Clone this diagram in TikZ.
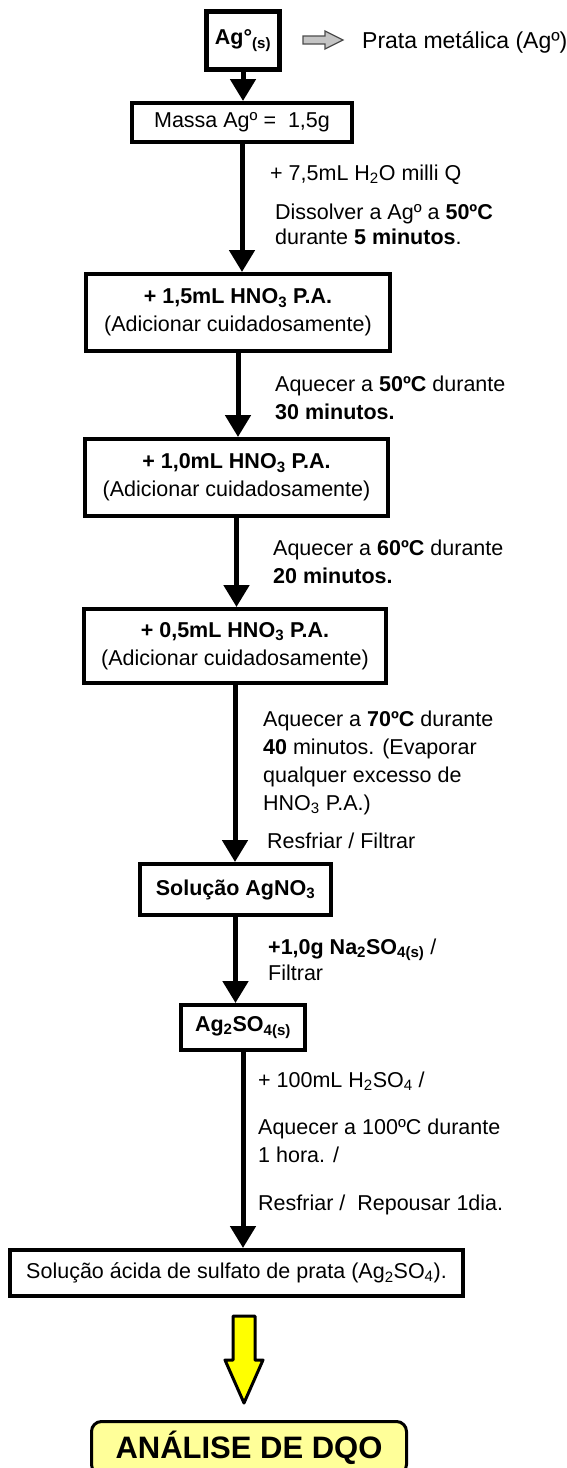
\documentclass[tikz,border=0pt]{standalone}
\usepackage{fontspec}
\setmainfont{Liberation Sans}
\usetikzlibrary{arrows.meta,positioning}
\definecolor{cGray}{HTML}{C4C4C4}
\definecolor{cYel}{HTML}{FFFF00}
\definecolor{cPale}{HTML}{FFFF99}
\tikzset{
  box/.style={draw=black,line width=4pt,fill=white,align=center,inner sep=0pt},
  note/.style={anchor=base west,align=left,inner sep=0pt},
  flow/.style={-{Triangle[length=22pt,width=25pt]},line width=5pt},
  hollow/.style={draw=black!70,fill=cGray,line width=1.3pt,line join=miter},
  yarrow/.style={draw=black,fill=cYel,line width=3pt,line join=round},
}

\begin{document}
\begin{tikzpicture}[x=1pt,y=-1pt,font=\fontsize{21.5}{28}\selectfont]
  \useasboundingbox (0,0) rectangle (566,1468);
  % boxes
  \node[box,line width=5pt,minimum width=73pt,minimum height=58pt] (ag) at (243,40.5)
    {\textbf{Ag°\textsubscript{(s)}}};
  \node[box,below=29pt of ag,xshift=-1pt,minimum width=220pt,minimum height=39pt] (massa)
    {Massa Agº = \ 1,5g};
  \node[box,below=128pt of massa,xshift=-4pt,minimum width=304pt,minimum height=77pt] (hnoA)
    {\textbf{+ 1,5mL HNO\textsubscript{3} P.A.}\\(Adicionar cuidadosamente)};
  \node[box,below=84pt of hnoA,xshift=-1.5pt,minimum width=303pt,minimum height=77pt] (hnoB)
    {\textbf{+ 1,0mL HNO\textsubscript{3} P.A.}\\(Adicionar cuidadosamente)};
  \node[box,below=89pt of hnoB,xshift=-1.5pt,minimum width=302pt,minimum height=74pt] (hnoC)
    {\textbf{+ 0,5mL HNO\textsubscript{3} P.A.}\\(Adicionar cuidadosamente)};
  \node[box,below=177pt of hnoC,xshift=0.5pt,minimum width=191pt,minimum height=51pt] (nitrato)
    {\textbf{Solução AgNO\textsubscript{3}}};
  \node[box,below=86pt of nitrato,xshift=7.5pt,minimum width=124pt,minimum height=45pt] (sulfato)
    {\textbf{Ag\textsubscript{2}SO\textsubscript{4(s)}}};
  \node[box,below=196pt of sulfato,xshift=-6.5pt,minimum width=453pt,minimum height=46pt] (acida)
    {Solução ácida de sulfato de prata (Ag\textsubscript{2}SO\textsubscript{4}).};
  \node[box,fill=cPale,line width=3pt,rounded corners=10pt,below=122pt of acida,xshift=12.5pt,
    minimum width=315pt,minimum height=53pt,font=\fontsize{31}{36}\selectfont\bfseries] (dqo)
    {ANÁLISE DE DQO};

  % flow arrows
  \draw[flow] (ag.south) -- (ag.south |- massa.north);
  \draw[flow] (massa.south) -- (massa.south |- hnoA.north);
  \draw[flow] (hnoA.south) -- (hnoA.south |- hnoB.north);
  \draw[flow] (hnoB.south) -- (hnoB.south |- hnoC.north);
  \draw[flow] (hnoC.south) -- (hnoC.south |- nitrato.north);
  \draw[flow] (nitrato.south) -- (nitrato.south |- sulfato.north);
  \draw[flow] (sulfato.south) -- (sulfato.south |- acida.north);

  % side notes
  \draw[hollow] (303,36) -- (325,36) -- (325,31) -- (343,40) -- (325,49) -- (325,44) -- (303,44) -- cycle;
  \node[note,font=\fontsize{23}{28}\selectfont] (prata) at (362,48) {Prata metálica (Agº)};
  \node[note] (agua) at (270,180) {+ 7,5mL H\textsubscript{2}O milli Q};
  \node[note,font=\fontsize{21.5}{24.5}\selectfont] (dissolver) at (275,244)
    {Dissolver a Agº a \textbf{50ºC}\\durante \textbf{5 minutos}.};
  \node[note] (aqA) at (275,419) {Aquecer a \textbf{50ºC} durante\\\textbf{30 minutos.}};
  \node[note] (aqB) at (273,583) {Aquecer a \textbf{60ºC} durante\\\textbf{20 minutos.}};
  \node[note] (aqC) at (263,810)
    {Aquecer a \textbf{70ºC} durante\\\textbf{40} minutos. (Evaporar\\qualquer excesso de\\HNO\textsubscript{3} P.A.)};
  \node[note] (resfA) at (267,848) {Resfriar / Filtrar};
  \node[note,font=\fontsize{21.5}{26}\selectfont] (sodio) at (268,980)
    {\textbf{+1,0g Na\textsubscript{2}SO\textsubscript{4(s)}} /\\Filtrar};
  \node[note] (acido) at (258,1087) {+ 100mL H\textsubscript{2}SO\textsubscript{4} /};
  \node[note] (aqD) at (258,1162) {Aquecer a 100ºC durante\\1 hora. /};
  \node[note] (repouso) at (258,1210) {Resfriar / \ Repousar 1dia.};

  % yellow arrow to analysis
  \draw[yarrow] (233,1316) -- (255,1316) -- (255,1360) -- (263,1360) -- (244,1403)
    -- (225,1360) -- (233,1360) -- cycle;
\end{tikzpicture}
\end{document}
